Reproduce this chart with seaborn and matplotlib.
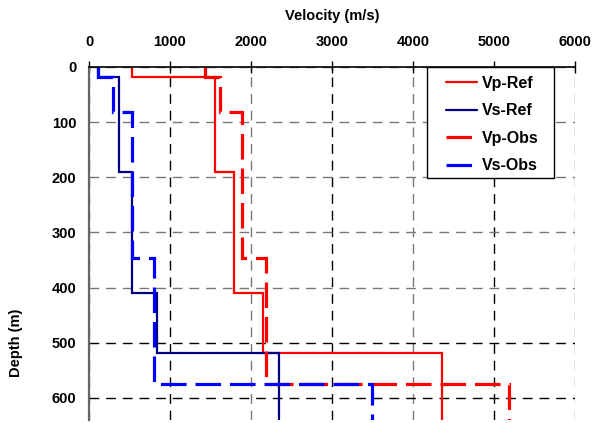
import matplotlib
matplotlib.use("Agg")
import matplotlib.pyplot as plt
from matplotlib.patches import Rectangle
import seaborn as sns
import pandas as pd

# ---- data (layer boundaries in m, layer velocities in m/s) ----
ref_depths = [0, 19, 190, 409, 518, 640]
vp_ref = [527, 1555, 1790, 2144, 4354]
vs_ref = [110, 374, 527, 843, 2342]

obs_depths = [0, 19, 81, 346, 574, 640]
vp_obs = [1430, 1620, 1885, 2185, 5180]
vs_obs = [115, 300, 530, 802, 3490]

x_ticks = [0, 1000, 2000, 3000, 4000, 5000, 6000]
y_ticks = [0, 100, 200, 300, 400, 500, 600]


def step_profile(bounds, vels):
    d, v = [], []
    for i, vel in enumerate(vels):
        d += [bounds[i], bounds[i + 1]]
        v += [vel, vel]
    return pd.DataFrame({"Velocity": v, "Depth": d})


sns.set_theme(style="white")
plt.rcParams["font.family"] = ["Liberation Sans", "DejaVu Sans"]
plt.rcParams["font.weight"] = "bold"
plt.rcParams["text.color"] = "black"
plt.rcParams["axes.labelcolor"] = "black"
plt.rcParams["xtick.color"] = "black"
plt.rcParams["ytick.color"] = "black"

fig = plt.figure(figsize=(6.0, 4.23), dpi=100)
ax = fig.add_axes([89 / 600, 1 - 420 / 423, 486 / 600, 353 / 423])

series = [
    ("Vp-Ref", ref_depths, vp_ref, "#ff0000", 1.6, None),
    ("Vs-Ref", ref_depths, vs_ref, "#000080", 1.6, None),
    ("Vp-Obs", obs_depths, vp_obs, "#ff0000", 2.3, (8, 2.8)),
    ("Vs-Obs", obs_depths, vs_obs, "#0000ff", 2.3, (8, 2.8)),
]
for name, b, v, col, lw, dash in series:
    df = step_profile(b, v)
    sns.lineplot(data=df, x="Velocity", y="Depth", sort=False, estimator=None,
                 ax=ax, color=col, linewidth=lw, label=name)
    ln = ax.get_lines()[-1]
    if dash is not None:
        ln.set_dashes(dash)
    ln.set_solid_joinstyle("miter")
    ln.set_dash_joinstyle("miter")

ax.set_xlim(0, 6000)
ax.set_ylim(640, 0)
ax.set_xticks(x_ticks)
ax.set_yticks(y_ticks)
ax.xaxis.tick_top()
ax.xaxis.set_label_position("top")
ax.set_xlabel("Velocity (m/s)", fontsize=10.5, fontweight="bold", labelpad=11)
ax.set_ylabel("Depth (m)", fontsize=10.5, fontweight="bold")
ax.yaxis.set_label_coords(-0.135, 0.22)

ax.tick_params(axis="both", direction="inout", length=8, width=1,
               labelsize=10.5, colors="black")
ax.tick_params(axis="x", pad=9)
ax.tick_params(axis="y", pad=5)
for lab in ax.get_xticklabels() + ax.get_yticklabels():
    lab.set_fontweight("bold")

# grid
ax.grid(True, linestyle=(0, (7, 5)), linewidth=1.0)
for i, gl in enumerate(ax.get_xgridlines()):
    gl.set_color("black" if i % 2 == 1 else "#777777")
for i, gl in enumerate(ax.get_ygridlines()):
    gl.set_color("#777777" if i <= 4 else "black")

for s in ["right", "bottom"]:
    ax.spines[s].set_visible(False)
ax.spines["left"].set_color("#666666")
ax.spines["left"].set_linewidth(1.6)
ax.spines["top"].set_color("black")
ax.spines["top"].set_linewidth(1.2)

# legend box
box = Rectangle((0.695, 0.686), 0.262, 0.314, transform=ax.transAxes,
                facecolor="white", edgecolor="black", linewidth=1.0, zorder=5)
ax.add_patch(box)
leg = ax.legend(loc="upper left", bbox_to_anchor=(0.735, 0.975), fontsize=11.5,
                frameon=False, handlelength=1.9, handletextpad=0.35,
                labelspacing=0.78, borderpad=0.0, borderaxespad=0)
leg.set_zorder(6)
for t in leg.get_texts():
    t.set_fontweight("bold")

fig.savefig("out.png", dpi=100)
